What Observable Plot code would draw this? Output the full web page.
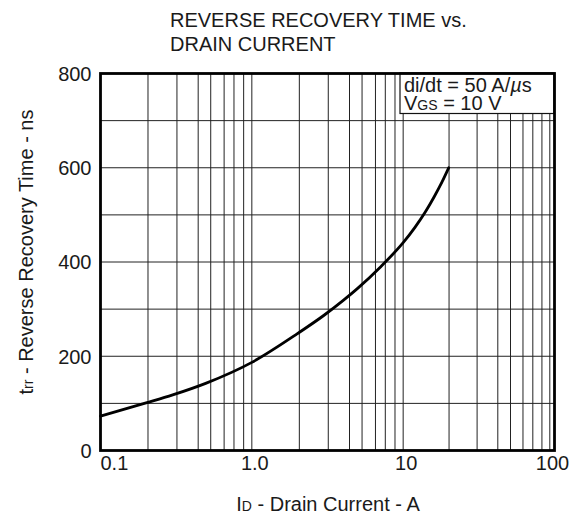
<!DOCTYPE html>
<html>
<head>
<meta charset="utf-8">
<script src="https://cdn.jsdelivr.net/npm/d3@7"></script>
<script src="https://cdn.jsdelivr.net/npm/@observablehq/plot@0.6"></script>
<style>
  body { margin: 0; background: #fff; }
  #chart svg { display: block; }
</style>
</head>
<body>
<div id="chart"></div>
<script>
// ---- data ----
const current = [0.1, 0.2, 0.3, 0.5, 1, 2, 3, 4, 5, 7, 10, 12, 14, 16, 18, 20];       // A
const trr     = [73, 101, 118, 143, 187, 248, 287, 318, 344, 388, 441, 474, 506, 538, 569, 600]; // ns

const xTickValues = [0.1, 1, 10, 100];
const xTickLabels = ["0.1", "1.0", "10", "100"];
const yTickValues = [0, 200, 400, 600, 800];
const xGrid = [0.206, 0.32, 0.442, 0.535, 0.656, 0.762, 0.883, 1,
               2.06, 3.2, 4.42, 5.35, 6.56, 7.62, 8.83, 10,
               20.1, 30.8, 42.2, 51.2, 61.9, 71.9, 82.6, 93.1];
const yGrid = [100, 200, 300, 400, 500, 600, 700];

const titleLines = ["REVERSE RECOVERY TIME vs.", "DRAIN CURRENT"];
const condLine1 = [["di/dt = 50 A/", false], ["µ", "mu"], ["s", false]];
const condLine2 = [["V", false], ["GS", true], [" = 10 V", false]];
const yLabelParts = [["t", false], ["rr", true], [" - Reverse Recovery Time - ns", false]];
const xLabelParts = [["I", false], ["D", true], [" - Drain Current - A", false]];

// ---- chart ----
const FONT = "'Liberation Sans', Arial, Helvetica, sans-serif";
const INK = "#1a1a1a";
const points = current.map((c, i) => ({c, t: trr[i]}));

const chart = Plot.plot({
  width: 587,
  height: 519,
  marginTop: 73,
  marginBottom: 69,
  marginLeft: 100,
  marginRight: 33,
  style: {fontFamily: FONT, fontSize: "20px", background: "#fff", color: INK},
  x: {type: "log", domain: [0.1, 100], axis: null},
  y: {domain: [0, 800], axis: null},
  marks: [
    Plot.ruleX(xGrid, {stroke: "#222", strokeWidth: 1}),
    Plot.ruleY(yGrid, {stroke: "#222", strokeWidth: 1}),
    Plot.line(points, {x: "c", y: "t", curve: "monotone-x", stroke: "#000", strokeWidth: 2.8}),
    Plot.frame({stroke: "#000", strokeWidth: 2.8}),
    Plot.text(yTickValues, {y: d => d, text: d => String(d), frameAnchor: "left",
      textAnchor: "end", dx: -9, dy: 1, fontSize: 20, fill: INK}),
    Plot.text(xTickValues.slice(0, 1), {x: d => d, text: (d, i) => xTickLabels[i],
      frameAnchor: "bottom", textAnchor: "start", dy: 19, fontSize: 20, fill: INK}),
    Plot.text(xTickValues.slice(1, 3), {x: d => d, text: (d, i) => xTickLabels[i + 1],
      frameAnchor: "bottom", textAnchor: "middle", dx: 3, dy: 19, fontSize: 20, fill: INK}),
    Plot.text(xTickValues.slice(3), {x: d => d, text: (d, i) => xTickLabels[i + 3],
      frameAnchor: "bottom", textAnchor: "middle", dx: -2, dy: 19, fontSize: 20, fill: INK})
  ]
});

document.getElementById("chart").appendChild(chart);

// ---- annotations (title, axis labels, condition box) ----
const svg = d3.select(chart);

function rich(sel, parts, size) {
  parts.forEach(([txt, kind]) => {
    const t = sel.append("tspan").text(txt);
    if (kind === true) t.attr("font-size", Math.round(size * 0.72));
    if (kind === "mu") t.attr("font-style", "italic");
  });
}

// title
const title = svg.append("text")
  .attr("text-anchor", "start")
  .attr("font-family", FONT).attr("font-size", 20).attr("fill", INK);
titleLines.forEach((line, i) => {
  title.append("tspan").attr("x", 170).attr("y", 27 + i * 24).text(line);
});

// condition box (inserted under the frame)
const box = svg.insert("g", "[aria-label=frame]");
box.append("rect")
  .attr("x", 400).attr("y", 73).attr("width", 154).attr("height", 40.5)
  .attr("fill", "#fff").attr("stroke", "#111").attr("stroke-width", 1.2);
const c1 = box.append("text").attr("x", 404).attr("y", 92)
  .attr("text-anchor", "start")
  .attr("font-family", FONT).attr("font-size", 20).attr("fill", INK);
rich(c1, condLine1, 20);
const c2 = box.append("text").attr("x", 404).attr("y", 110)
  .attr("text-anchor", "start")
  .attr("font-family", FONT).attr("font-size", 20).attr("fill", INK);
rich(c2, condLine2, 20);

// y label
const yl = svg.append("text")
  .attr("transform", "translate(33,252) rotate(-90)")
  .attr("text-anchor", "middle")
  .attr("font-family", FONT).attr("font-size", 20).attr("fill", INK);
rich(yl, yLabelParts, 20);

// x label
const xl = svg.append("text")
  .attr("x", 328).attr("y", 511)
  .attr("text-anchor", "middle")
  .attr("font-family", FONT).attr("font-size", 20).attr("fill", INK);
rich(xl, xLabelParts, 20);
</script>
</body>
</html>
